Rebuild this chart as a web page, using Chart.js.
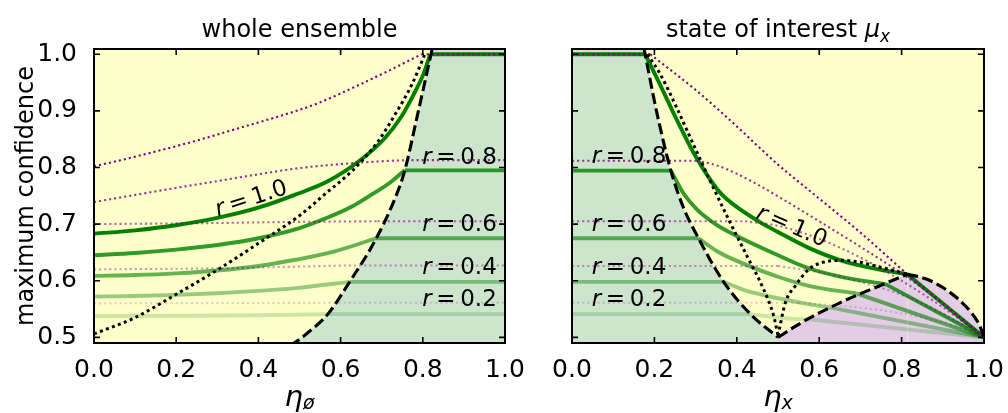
<!DOCTYPE html>
<html>
<head>
<meta charset="utf-8">
<title>maximum confidence</title>
<script src="https://cdn.jsdelivr.net/npm/chart.js@4.4.1/dist/chart.umd.min.js"></script>
<style>
  html, body { margin: 0; padding: 0; background: #fff; }
  #figure { position: relative; width: 1008px; height: 413px; }
  #figure canvas { position: absolute; left: 0; top: 0; }
</style>
</head>
<body>
<div id="figure">
  <canvas id="ensembleGraph" width="1008" height="413"></canvas>
  <canvas id="stateGraph" width="1008" height="413"></canvas>
</div>
<script>
// axis ticks and curve parameter
const xTicks = [0.0, 0.2, 0.4, 0.6, 0.8, 1.0];
const yTicks = [0.5, 0.6, 0.7, 0.8, 0.9, 1.0];
const rValues = [1.0, 0.8, 0.6, 0.4, 0.2];

// whole ensemble: confidence vs eta_0 for each r until it meets the boundary, flat afterwards
const ensConf10 = [[0, 0.683], [0.1, 0.689], [0.2, 0.698], [0.3, 0.711], [0.4, 0.729], [0.49, 0.752], [0.57, 0.776], [0.65, 0.814], [0.708, 0.852], [0.748, 0.89], [0.777, 0.928], [0.801, 0.964], [0.818, 1.0]];
const ensConf08 = [[0, 0.645], [0.1, 0.649], [0.2, 0.655], [0.3, 0.663], [0.4, 0.675], [0.5, 0.693], [0.57, 0.712], [0.63, 0.732], [0.675, 0.752], [0.72, 0.773], [0.756, 0.795]];
const ensConf06 = [[0, 0.6085], [0.1, 0.61], [0.2, 0.613], [0.3, 0.618], [0.4, 0.626], [0.49, 0.637], [0.586, 0.652], [0.687, 0.675]];
const ensConf04 = [[0, 0.572], [0.1, 0.573], [0.2, 0.575], [0.3, 0.578], [0.4, 0.582], [0.49, 0.587], [0.622, 0.598]];
const ensConf02 = [[0, 0.5375], [0.2, 0.538], [0.4, 0.539], [0.569, 0.541]];
// upper bounds (dotted purple)
const ensBound10 = [[0, 0.802], [0.1, 0.819], [0.242, 0.846], [0.35, 0.869], [0.488, 0.899], [0.55, 0.915], [0.651, 0.948], [0.72, 0.972], [0.797, 1.0]];
const ensBound08 = [[0, 0.739], [0.104, 0.752], [0.2, 0.764], [0.3, 0.776], [0.4, 0.788], [0.5, 0.799], [0.6, 0.806], [0.7, 0.811], [0.76, 0.813]];
const ensBound06 = [[0, 0.700], [0.3, 0.702], [0.5, 0.704], [0.69, 0.705]];
const ensBound04 = [[0, 0.620], [0.3, 0.622], [0.5, 0.625], [0.62, 0.627]];
const ensBound02 = [[0, 0.560], [0.3, 0.5605], [0.57, 0.561]];
// black dotted and dashed boundary
const ensDotted = [[0, 0.506], [0.1, 0.535], [0.2, 0.576], [0.3, 0.619], [0.4, 0.666], [0.5, 0.715], [0.57, 0.758], [0.61, 0.782], [0.651, 0.811], [0.691, 0.846], [0.732, 0.893], [0.773, 0.946], [0.805, 1.0]];
const ensEdge = [[0.478, 0.485], [0.52, 0.508], [0.569, 0.541], [0.622, 0.598], [0.687, 0.675], [0.736, 0.752], [0.756, 0.7945], [0.789, 0.899], [0.82, 1.0], [0.824, 1.013]];

// state of interest: flat until the boundary, curve, then straight to the common end point
const stateConf10 = [[0.1775, 1.0], [0.214, 0.946], [0.2545, 0.884], [0.295, 0.826], [0.352, 0.762], [0.376, 0.744], [0.457, 0.703], [0.5, 0.686], [0.5745, 0.658], [0.656, 0.635], [0.737, 0.621], [0.8137, 0.6115]];
const stateConf08 = [[0.24, 0.7945], [0.27, 0.755], [0.303, 0.726], [0.35, 0.699], [0.4, 0.679], [0.5, 0.645], [0.5745, 0.622], [0.656, 0.6065], [0.761, 0.594]];
const stateConf06 = [[0.307, 0.675], [0.35, 0.653], [0.4, 0.635], [0.5, 0.607], [0.5745, 0.591], [0.69, 0.5775]];
const stateConf04 = [[0.368, 0.598], [0.42, 0.583], [0.5, 0.569], [0.5745, 0.5586], [0.625, 0.553]];
const stateConf02 = [[0.433, 0.541], [0.5, 0.535], [0.542, 0.5325], [0.575, 0.532]];
const stateEnd = [1.0, 0.5];
const stateBound10 = [[0.19, 1.0], [0.3, 0.937], [0.392, 0.878], [0.5, 0.805], [0.57, 0.763], [0.7, 0.685], [0.8137, 0.6115]];
const stateBound08 = [[0.303, 0.812], [0.35, 0.804], [0.4, 0.789], [0.45, 0.77], [0.5, 0.749], [0.6, 0.705], [0.7, 0.66], [0.8, 0.613], [0.9, 0.56], [1.0, 0.5]];
const stateBound06 = [[0.42, 0.705], [0.5, 0.697], [0.6, 0.674], [0.7, 0.641], [0.8, 0.6], [0.9, 0.553], [1.0, 0.5]];
const stateBound04 = [[0.5, 0.626], [0.6, 0.615], [0.7, 0.598], [0.8, 0.575], [0.9, 0.542], [1.0, 0.5]];
const stateBound02 = [[0.55, 0.561], [0.65, 0.556], [0.75, 0.548], [0.85, 0.535], [0.93, 0.52], [1.0, 0.5]];
const stateDottedDown = [[0.183, 1.0], [0.214, 0.965], [0.2545, 0.905], [0.295, 0.84], [0.3355, 0.776], [0.384, 0.7025], [0.4247, 0.6437], [0.465, 0.585], [0.4895, 0.538], [0.5, 0.503]];
const stateDottedUp = [[0.5, 0.503], [0.518, 0.5616], [0.542, 0.591], [0.5745, 0.62], [0.607, 0.632], [0.656, 0.636], [0.696, 0.633], [0.737, 0.626], [0.8137, 0.6115]];
const stateEdgeLeft = [[0.174, 1.012], [0.1775, 1.0], [0.205, 0.9], [0.24, 0.7945], [0.27, 0.73], [0.307, 0.675], [0.368, 0.598], [0.433, 0.541], [0.5, 0.5]];
const stateEdgeInner = [[0.5, 0.5], [0.55, 0.523], [0.6, 0.543], [0.65, 0.561], [0.7, 0.577], [0.75, 0.592], [0.8137, 0.6115]];
const stateEdgeOuter = [[0.8137, 0.6115], [0.86, 0.603], [0.9, 0.588], [0.94, 0.566], [0.97, 0.543], [0.99, 0.52], [1.0, 0.5]];

// label anchors: [x, y, rotation in degrees, alignment]
const ensLabelPos = [[0.383, 0.744, -18, 'center'], [0.98, 0.8063, 0, 'right'], [0.98, 0.6877, 0, 'right'], [0.98, 0.6115, 0, 'right'], [0.98, 0.5546, 0, 'right']];
const stateLabelPos = [[0.533, 0.695, 23, 'center'], [0.048, 0.808, 0, 'left'], [0.048, 0.6877, 0, 'left'], [0.048, 0.6115, 0, 'left'], [0.048, 0.5546, 0, 'left']];

const FONT = "'DejaVu Sans'";
const YELLOW = '#ffffcc';
const GREEN_FILL = '#cde5cd';
const PURPLE_FILL = '#e3cde4';
const greenLine = r => `rgba(0,128,0,${r})`;
const purpleLine = r => `rgba(128,0,128,${r})`;
const GREEN_WIDTH = 3.9;
const DOTTED_BLACK = [3, 3.4];
const DASHED_BLACK = [11, 4.5];
const DOTTED_PURPLE = [2.1, 3];
const LABEL_SIZE = 23;

function pts(arr) {
    return arr.map(p => ({ x: p[0], y: p[1] }));
}

function curve(points, color, width, dash, order) {
    return {
        data: pts(points), borderColor: color, borderWidth: width, borderDash: dash || [],
        borderCapStyle: 'butt', pointRadius: 0, fill: false, order: order,
        cubicInterpolationMode: 'monotone'
    };
}

function straight(points, color, width, dash, order) {
    const ds = curve(points, color, width, dash, order);
    ds.cubicInterpolationMode = 'default';
    ds.tension = 0;
    return ds;
}

function area(points, color, order) {
    return {
        data: pts(points), borderWidth: 0, borderColor: 'rgba(0,0,0,0)', backgroundColor: color,
        pointRadius: 0, fill: 'start', order: order, cubicInterpolationMode: 'monotone'
    };
}

const last = a => a[a.length - 1];
const flatRight = a => [last(a), [1.0, last(a)[1]]];
const flatLeft = a => [[0.0, a[0][1]], a[0]];

// build datasets for the whole ensemble panel
function ensembleDatasets() {
    const conf = [ensConf10, ensConf08, ensConf06, ensConf04, ensConf02];
    const bound = [ensBound10, ensBound08, ensBound06, ensBound04, ensBound02];
    const sets = [area([...ensEdge, [1.0, 1.013]], GREEN_FILL, 40)];
    conf.forEach((c, i) => {
        sets.push(curve(c, greenLine(rValues[i]), GREEN_WIDTH, null, 30 - i));
        sets.push(straight(flatRight(c), greenLine(rValues[i]), GREEN_WIDTH, null, 30 - i));
    });
    bound.forEach((b, i) => {
        sets.push(curve(b, purpleLine(rValues[i]), 2.1, DOTTED_PURPLE, 20 - i));
        sets.push(straight(flatRight(b), purpleLine(rValues[i]), 2.1, DOTTED_PURPLE, 20 - i));
    });
    sets.push(curve(ensDotted, '#000', 3, DOTTED_BLACK, 2));
    sets.push(curve(ensEdge, '#000', 3.1, DASHED_BLACK, 1));
    return sets;
}

// build datasets for the state of interest panel
function stateDatasets() {
    const conf = [stateConf10, stateConf08, stateConf06, stateConf04, stateConf02];
    const bound = [stateBound10, stateBound08, stateBound06, stateBound04, stateBound02];
    const sets = [
        area([[0.0, 1.012], ...stateEdgeLeft], GREEN_FILL, 40),
        area(stateEdgeInner, PURPLE_FILL, 40),
        area(stateEdgeOuter, PURPLE_FILL, 40)
    ];
    conf.forEach((c, i) => {
        sets.push(straight(flatLeft(c), greenLine(rValues[i]), GREEN_WIDTH, null, 30 - i));
        sets.push(curve(c, greenLine(rValues[i]), GREEN_WIDTH, null, 30 - i));
        sets.push(straight([last(c), stateEnd], greenLine(rValues[i]), GREEN_WIDTH, null, 30 - i));
    });
    bound.forEach((b, i) => {
        sets.push(straight(flatLeft(b), purpleLine(rValues[i]), 2.1, DOTTED_PURPLE, 20 - i));
        sets.push(curve(b, purpleLine(rValues[i]), 2.1, DOTTED_PURPLE, 20 - i));
    });
    sets.push(straight([last(stateBound10), stateEnd], purpleLine(1.0), 2.1, DOTTED_PURPLE, 20));
    sets.push(curve(stateDottedDown, '#000', 3, DOTTED_BLACK, 2));
    sets.push(curve(stateDottedUp, '#000', 3, DOTTED_BLACK, 2));
    sets.push(curve(stateEdgeLeft, '#000', 3.1, DASHED_BLACK, 1));
    sets.push(curve(stateEdgeInner, '#000', 3.1, DASHED_BLACK, 1));
    sets.push(curve(stateEdgeOuter, '#000', 3.1, DASHED_BLACK, 1));
    return sets;
}

// draw a run of text pieces (regular / italic / subscript) on one baseline
function drawRuns(ctx, runs, x, y, align) {
    const fontOf = r => `${r.it ? 'oblique ' : ''}${r.size || 24}px ${FONT}`;
    const widths = runs.map(r => {
        ctx.font = fontOf(r);
        return ctx.measureText(r.t).width + (r.gap || 0) * (r.size || 24);
    });
    const total = widths.reduce((a, b) => a + b, 0);
    let cx = align === 'left' ? x : align === 'right' ? x - total : x - total / 2;
    ctx.textAlign = 'left';
    runs.forEach((r, i) => {
        ctx.font = fontOf(r);
        ctx.fillText(r.t, cx, y + (r.dy || 0));
        cx += widths[i];
    });
}

// "r = 0.8" with math-style spacing around the equals sign
function rLabelRuns(r) {
    return [
        { t: 'r', it: true, size: LABEL_SIZE, gap: 0.2 },
        { t: '=', size: LABEL_SIZE, gap: 0.2 },
        { t: r.toFixed(1), size: LABEL_SIZE }
    ];
}

// yellow background, frame, inward ticks, titles and r labels
const panelDecor = {
    id: 'panelDecor',
    beforeDatasetsDraw(chart) {
        const { ctx, chartArea: a } = chart;
        ctx.save();
        ctx.fillStyle = YELLOW;
        ctx.fillRect(a.left, a.top, a.right - a.left, a.bottom - a.top);
        ctx.restore();
    },
    afterDraw(chart, args, opts) {
        const { ctx, chartArea: a, scales: { x, y } } = chart;
        ctx.save();
        ctx.strokeStyle = '#000';
        ctx.lineWidth = 1.6;
        ctx.beginPath();
        xTicks.forEach(v => {
            const px = x.getPixelForValue(v);
            ctx.moveTo(px, a.bottom); ctx.lineTo(px, a.bottom - 6);
            ctx.moveTo(px, a.top); ctx.lineTo(px, a.top + 6);
        });
        yTicks.forEach(v => {
            const py = y.getPixelForValue(v);
            ctx.moveTo(a.left, py); ctx.lineTo(a.left + 6, py);
            ctx.moveTo(a.right, py); ctx.lineTo(a.right - 6, py);
        });
        ctx.stroke();
        ctx.lineWidth = 2;
        ctx.strokeRect(a.left, a.top, a.right - a.left, a.bottom - a.top);

        ctx.fillStyle = '#000';
        ctx.textBaseline = 'alphabetic';
        const cx = (a.left + a.right) / 2;
        drawRuns(ctx, opts.title, cx, a.top - 12, 'center');
        drawRuns(ctx, opts.xLabel, cx, a.bottom + 63, 'center');
        if (opts.yLabel) {
            ctx.save();
            ctx.translate(33, (a.top + a.bottom) / 2);
            ctx.rotate(-Math.PI / 2);
            drawRuns(ctx, [{ t: opts.yLabel, size: 24 }], 0, 0, 'center');
            ctx.restore();
        }
        opts.rLabels.forEach((pos, i) => {
            const px = x.getPixelForValue(pos[0]);
            const py = y.getPixelForValue(pos[1]);
            ctx.save();
            ctx.translate(px, py);
            if (pos[2]) {
                ctx.rotate(pos[2] * Math.PI / 180);
                ctx.textBaseline = 'middle';
            }
            drawRuns(ctx, rLabelRuns(rValues[i]), 0, 0, pos[3]);
            ctx.restore();
        });
        ctx.restore();
    }
};

function axisX() {
    return {
        type: 'linear', min: 0, max: 1,
        afterBuildTicks: s => { s.ticks = xTicks.map(v => ({ value: v })); },
        afterFit: s => { s.height = 70; s.paddingLeft = 0; s.paddingRight = 0; },
        grid: { display: false }, border: { display: false },
        ticks: { color: '#000', font: { family: FONT, size: 25 }, padding: 4, maxRotation: 0, autoSkip: false,
                 callback: v => v.toFixed(1) }
    };
}

function axisY(showLabels, width) {
    return {
        type: 'linear', min: 0.49, max: 1.0093,
        afterBuildTicks: s => { s.ticks = yTicks.map(v => ({ value: v })); },
        afterFit: s => { s.width = width; s.paddingTop = 0; s.paddingBottom = 0; },
        grid: { display: false }, border: { display: false },
        ticks: { display: showLabels, color: '#000', font: { family: FONT, size: 25 }, padding: 9, autoSkip: false,
                 callback: v => v.toFixed(1) }
    };
}

function panelConfig(datasets, yAxis, padRight, decor) {
    return {
        type: 'line',
        data: { datasets: datasets },
        options: {
            responsive: false, animation: false, devicePixelRatio: 1, events: [],
            layout: { padding: { top: 49, right: padRight, bottom: 0, left: 0 } },
            scales: { x: axisX(), y: yAxis },
            plugins: { legend: { display: false }, tooltip: { enabled: false }, panelDecor: decor }
        },
        plugins: [panelDecor]
    };
}

const ensembleGraph = new Chart('ensembleGraph', panelConfig(ensembleDatasets(), axisY(true, 94), 503, {
    title: [{ t: 'whole ensemble', size: 24 }],
    xLabel: [{ t: 'η', it: true, size: 29 }, { t: 'ø', it: true, size: 19, dy: 3 }],
    yLabel: 'maximum confidence',
    rLabels: ensLabelPos
}));

const stateGraph = new Chart('stateGraph', panelConfig(stateDatasets(), axisY(false, 572), 24, {
    title: [{ t: 'state of interest ', size: 24 }, { t: 'μ', it: true, size: 24 }, { t: 'x', it: true, size: 17, dy: 5 }],
    xLabel: [{ t: 'η', it: true, size: 29 }, { t: 'x', it: true, size: 19, dy: 3 }],
    rLabels: stateLabelPos
}));
</script>
</body>
</html>
